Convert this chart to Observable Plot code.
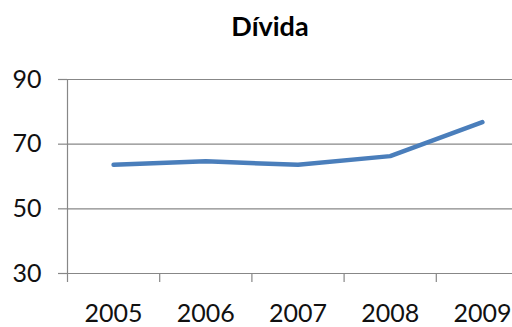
<!DOCTYPE html>
<html>
<head>
<meta charset="utf-8">
<script src="https://cdn.jsdelivr.net/npm/d3@7"></script>
<script src="https://cdn.jsdelivr.net/npm/@observablehq/plot@0.6"></script>
<style>
  html, body { margin: 0; padding: 0; background: #fff; overflow: hidden; }
  #chart { position: relative; width: 512px; height: 327px; overflow: hidden; }
  #title {
    position: absolute; top: 12px; left: 0; width: 540px;
    text-align: center; font-family: Lato, sans-serif; font-weight: bold;
    font-size: 27px; line-height: 27px; color: #000;
  }
  #chart svg { position: absolute; top: 0; left: 0; max-width: none !important; height: 327px !important; }
</style>
</head>
<body>
<div id="chart"><div id="title">Dívida</div></div>
<script>
// Dívida pública (% do PIB)
const years = [2005, 2006, 2007, 2008, 2009];
const debt = [63.6, 64.7, 63.6, 66.3, 76.8];
const yTicks = [30, 50, 70, 90];

const data = years.map((year, i) => ({year, value: debt[i]}));
// category boundaries for the x-axis tick marks
const bounds = [...years.map(y => y - 0.5), years[years.length - 1] + 0.5];

const gridColor = "#878787";

const chart = Plot.plot({
  width: 528,
  height: 327,
  marginLeft: 67,
  marginRight: 0,
  marginTop: 79,
  marginBottom: 54,
  style: {fontFamily: "Lato, sans-serif", fontSize: "25px", color: "#111", background: "transparent", overflow: "visible"},
  x: {domain: [bounds[0], bounds[bounds.length - 1]]},
  y: {domain: [30, 90]},
  marks: [
    Plot.gridY(yTicks, {stroke: gridColor, strokeOpacity: 1, strokeWidth: 1.2}),
    Plot.ruleX([bounds[0]], {stroke: gridColor, strokeWidth: 1.2}),
    Plot.axisY(yTicks, {tickSize: 9, tickPadding: 17, stroke: gridColor, strokeWidth: 1.2, label: null, fontSize: 25}),
    Plot.axisX(bounds, {tickSize: 9, tickFormat: () => "", stroke: gridColor, strokeWidth: 1.2, label: null}),
    Plot.axisX(years, {tickSize: 0, tickPadding: 31, tickFormat: d => String(d), label: null, fontSize: 25}),
    Plot.line(data, {x: "year", y: "value", stroke: "#4a7ebb", strokeWidth: 4.5, strokeLinecap: "round", strokeLinejoin: "round"})
  ]
});

document.getElementById("chart").appendChild(chart);
</script>
</body>
</html>
